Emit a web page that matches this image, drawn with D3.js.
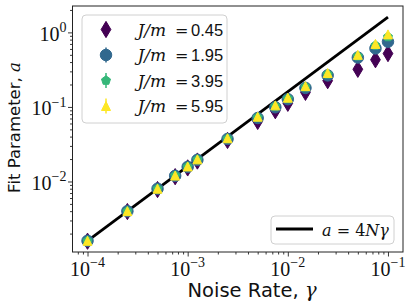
<!DOCTYPE html>
<html>
<head>
<meta charset="utf-8">
<script src="https://cdn.jsdelivr.net/npm/d3@7"></script>
<style>
  body { margin: 0; background: #fff; }
  svg { display: block; }
</style>
</head>
<body>
<div class="container"></div>
<script>
// noise rates (x) shared by all series
const gammas = [1e-4, 2.5e-4, 5e-4, 7.5e-4, 1e-3, 1.25e-3, 2.5e-3, 5e-3, 7.5e-3, 1e-2, 1.5e-2, 2.5e-2, 5e-2, 7.5e-2, 1e-1];
const couplings = ["0.45", "1.95", "3.95", "5.95"];
const fitJ045 = [0.00158, 0.00395, 0.0078, 0.0116, 0.0152, 0.0188, 0.0355, 0.0640, 0.0890, 0.112, 0.157, 0.225, 0.320, 0.430, 0.520];
const fitJ195 = [0.00160, 0.00400, 0.0080, 0.0119, 0.0157, 0.0195, 0.0372, 0.0710, 0.0990, 0.127, 0.180, 0.265, 0.460, 0.610, 0.750];
const fitJ395 = [0.00160, 0.00400, 0.0080, 0.0120, 0.0158, 0.0197, 0.0376, 0.0725, 0.1020, 0.130, 0.185, 0.275, 0.480, 0.670, 0.870];
const fitJ595 = [0.00160, 0.00400, 0.0080, 0.0120, 0.0159, 0.0198, 0.0380, 0.0740, 0.1050, 0.133, 0.190, 0.285, 0.500, 0.700, 0.940];
const series = [fitJ045, fitJ195, fitJ395, fitJ595];
// reference line a = 4 N gamma, N = 4
const lineGamma = [1e-4, 1e-1];
const lineA = [1.6e-3, 1.6];
const xTicks = [1e-4, 1e-3, 1e-2, 1e-1];
const xTickExp = ["\u22124", "\u22123", "\u22122", "\u22121"];
const yTicks = [1e-2, 1e-1, 1];
const yTickExp = ["\u22122", "\u22121", "0"];

const colors = ["#440154", "#31688e", "#35b779", "#fde725"];
const sizes = [11.5, 11.5, 9.5, 9];
const shapes = ["thinDiamond", "circle", "pentagon", "triangle"];

const W = 415, H = 306;
const plotL = 72.5, plotR = 403, plotT = 6, plotB = 252;

const svg = d3.select(".container").append("svg")
    .attr("width", W).attr("height", H);

const x = d3.scaleLog().domain([Math.pow(10, -4.15), Math.pow(10, -0.85)]).range([plotL, plotR]);
const y = d3.scaleLog().domain([Math.pow(10, -2.946), Math.pow(10, 0.354)]).range([plotB, plotT]);

function minorTicks(scale) {
  const [a, b] = scale.domain();
  const out = [];
  for (let e = Math.floor(Math.log10(a)); e <= Math.ceil(Math.log10(b)); e++) {
    for (let k = 2; k <= 9; k++) {
      const v = k * Math.pow(10, e);
      if (v >= a && v <= b) out.push(v);
    }
  }
  return out;
}

function markerPath(shape, ms) {
  const r = ms / 2;
  if (shape === "circle") {
    const p = d3.path();
    p.arc(0, 0, r, 0, 2 * Math.PI);
    p.closePath();
    return p.toString();
  }
  if (shape === "thinDiamond") {
    const h = ms * 1.414 / 2, w = h * 0.6;
    return `M0,${-h}L${w},0L0,${h}L${-w},0Z`;
  }
  if (shape === "pentagon") {
    const pts = d3.range(5).map(k => {
      const ang = -Math.PI / 2 + k * 2 * Math.PI / 5;
      return [r * Math.cos(ang), r * Math.sin(ang)];
    });
    return "M" + pts.map(p => p.join(",")).join("L") + "Z";
  }
  return `M0,${-r}L${r},${r}L${-r},${r}Z`;
}

// axes ticks
const gx = svg.append("g").attr("transform", `translate(0,${plotB})`);
gx.call(d3.axisBottom(x).tickValues(xTicks).tickSize(4.5).tickFormat(""));
gx.append("g").call(d3.axisBottom(x).tickValues(minorTicks(x)).tickSize(2.5).tickFormat(""));
const gy = svg.append("g").attr("transform", `translate(${plotL},0)`);
gy.call(d3.axisLeft(y).tickValues(yTicks).tickSize(4.5).tickFormat(""));
gy.append("g").call(d3.axisLeft(y).tickValues(minorTicks(y)).tickSize(2.5).tickFormat(""));
svg.selectAll(".domain").remove();
svg.selectAll(".tick line").attr("stroke", "#222").attr("stroke-width", 0.9);

// tick labels
const tickFont = "'Liberation Serif', 'DejaVu Serif', serif";
const mathFont = "'DejaVu Serif', serif";
xTicks.forEach((t, i) => {
  const tx = svg.append("text")
      .attr("x", x(t)).attr("y", 275.5)
      .attr("text-anchor", "middle")
      .style("font-family", tickFont).style("font-size", "20px").attr("fill", "#111");
  tx.append("tspan").text("10");
  tx.append("tspan").attr("dy", -8.5).style("font-size", "14px").text(xTickExp[i]);
});
yTicks.forEach((t, i) => {
  const ty = svg.append("text")
      .attr("x", 66.5).attr("y", y(t) + 8.5)
      .attr("text-anchor", "end")
      .style("font-family", tickFont).style("font-size", "20px").attr("fill", "#111");
  ty.append("tspan").text("10");
  ty.append("tspan").attr("dy", -8.5).style("font-size", "14px").text(yTickExp[i]);
});

// reference line
const line = d3.line().x(d => x(d[0])).y(d => y(d[1]));
svg.append("path")
    .datum(lineGamma.map((g, i) => [g, lineA[i]]))
    .attr("d", line)
    .attr("fill", "none").attr("stroke", "#000").attr("stroke-width", 2.8);

// data markers
series.forEach((vals, s) => {
  svg.append("g").selectAll("path")
      .data(vals)
      .enter().append("path")
      .attr("d", markerPath(shapes[s], sizes[s]))
      .attr("transform", (d, i) => `translate(${x(gammas[i])},${y(d)})`)
      .attr("fill", colors[s])
      .attr("stroke", colors[s]).attr("stroke-width", 1);
});

// frame
svg.append("rect")
    .attr("x", plotL).attr("y", plotT)
    .attr("width", plotR - plotL).attr("height", plotB - plotT)
    .attr("fill", "none").attr("stroke", "#222").attr("stroke-width", 1);

// legend: couplings
const lg = svg.append("g");
lg.append("rect")
    .attr("x", 82).attr("y", 15).attr("width", 145).attr("height", 108).attr("rx", 4)
    .attr("fill", "#fff").attr("fill-opacity", 0.8).attr("stroke", "#d0d0d0");
couplings.forEach((c, i) => {
  const cy = 29.5 + i * 25.5;
  lg.append("line")
      .attr("x1", 106).attr("x2", 106).attr("y1", cy - 7.5).attr("y2", cy + 7.5)
      .attr("stroke", colors[i]).attr("stroke-width", 1.5);
  lg.append("path")
      .attr("d", markerPath(shapes[i], sizes[i]))
      .attr("transform", `translate(106,${cy})`)
      .attr("fill", colors[i]).attr("stroke", colors[i]);
  lg.append("text").attr("x", 137.5).attr("y", cy + 6)
      .style("font-family", mathFont).style("font-style", "italic").style("font-size", "17px")
      .attr("fill", "#111").text("J/m");
  lg.append("text").attr("x", 175).attr("y", cy + 6)
      .style("font-family", mathFont).style("font-size", "16px")
      .attr("fill", "#111").text("=");
  lg.append("text").attr("x", 191).attr("y", cy + 6)
      .style("font-family", "'Liberation Sans', sans-serif").style("font-size", "16.5px")
      .attr("fill", "#111").text(c);
});

// legend: reference line
const lg2 = svg.append("g");
lg2.append("rect")
    .attr("x", 271).attr("y", 216).attr("width", 123).attr("height", 28).attr("rx", 4)
    .attr("fill", "#fff").attr("fill-opacity", 0.8).attr("stroke", "#d0d0d0");
lg2.append("line")
    .attr("x1", 276).attr("x2", 313).attr("y1", 229).attr("y2", 229)
    .attr("stroke", "#000").attr("stroke-width", 2.8);
const t2 = lg2.append("text").attr("x", 322).attr("y", 236)
    .style("font-family", mathFont).style("font-size", "16px").attr("fill", "#111");
t2.append("tspan").style("font-style", "italic").text("a");
t2.append("tspan").text(" = 4");
t2.append("tspan").style("font-style", "italic").text("N\u03b3");

// axis titles
const xl = svg.append("text")
    .attr("x", 252).attr("y", 297).attr("text-anchor", "middle")
    .style("font-family", "'DejaVu Sans', sans-serif").style("font-size", "19.5px").attr("fill", "#111");
xl.append("tspan").text("Noise Rate, ");
xl.append("tspan").style("font-family", mathFont).style("font-style", "italic").text("\u03b3");

const yl = svg.append("text")
    .attr("transform", "translate(19.5,127.5) rotate(-90)").attr("text-anchor", "middle")
    .style("font-family", "'DejaVu Sans', sans-serif").style("font-size", "16.5px").attr("fill", "#111");
yl.append("tspan").text("Fit Parameter, ");
yl.append("tspan").style("font-family", mathFont).style("font-style", "italic").text("a");
</script>
</body>
</html>
